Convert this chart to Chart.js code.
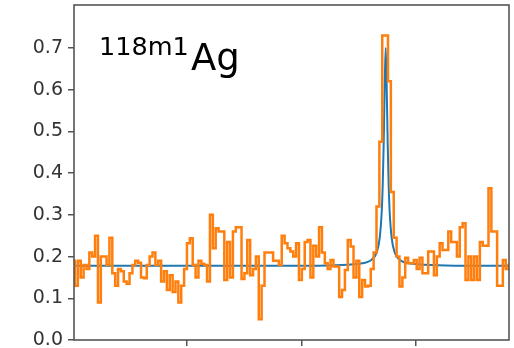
<!DOCTYPE html>
<html>
<head>
<meta charset="utf-8">
<script src="https://cdn.jsdelivr.net/npm/chart.js@4"></script>
<style>
  html, body { margin: 0; padding: 0; background: #fff; }
  #wrap { width: 514px; height: 348px; }
</style>
</head>
<body>
<div id="wrap"><canvas id="c" width="514" height="348"></canvas></div>
<script>
// Spectrum binning (0.5 per bin) and visible axis range
const binStart = 40.1;
const binWidth = 0.5;
const xMin = 40.43;
const xMax = 116.17;
const xTickValues = [60, 80, 100];
const yTickValues = [0.0, 0.1, 0.2, 0.3, 0.4, 0.5, 0.6, 0.7];

// Measured counts per bin (orange histogram)
const counts = [
  0.19,
  0.13, 0.19, 0.15, 0.18, 0.17, 0.21, 0.20, 0.25, 0.09, 0.20,
  0.20, 0.18, 0.245, 0.16, 0.13, 0.17, 0.165, 0.14, 0.135, 0.16,
  0.18, 0.19, 0.185, 0.15, 0.148, 0.18, 0.20, 0.21, 0.18, 0.19,
  0.14, 0.165, 0.12, 0.155, 0.115, 0.14, 0.09, 0.13, 0.17, 0.232,
  0.244, 0.18, 0.15, 0.19, 0.183, 0.18, 0.14, 0.30, 0.22, 0.268,
  0.26, 0.26, 0.144, 0.235, 0.15, 0.26, 0.27, 0.27, 0.146, 0.16,
  0.24, 0.155, 0.17, 0.20, 0.05, 0.13, 0.21, 0.21, 0.21, 0.19,
  0.19, 0.18, 0.25, 0.232, 0.22, 0.212, 0.20, 0.232, 0.144, 0.17,
  0.235, 0.24, 0.15, 0.226, 0.20, 0.27, 0.21, 0.184, 0.17, 0.192,
  0.176, 0.176, 0.103, 0.12, 0.168, 0.24, 0.224, 0.15, 0.19, 0.103,
  0.144, 0.128, 0.13, 0.17, 0.21, 0.32, 0.475, 0.73, 0.73, 0.62,
  0.355, 0.245, 0.20, 0.128, 0.15, 0.197, 0.184, 0.184, 0.192, 0.17,
  0.197, 0.16, 0.16, 0.212, 0.212, 0.155, 0.20, 0.232, 0.216, 0.216,
  0.26, 0.235, 0.235, 0.20, 0.27, 0.28, 0.144, 0.20, 0.144, 0.20,
  0.144, 0.235, 0.226, 0.226, 0.364, 0.26, 0.26, 0.13, 0.13, 0.192,
  0.17, 0.18
];

// Fitted peak + flat background (blue curve)
const fitX = [40.43, 60.0, 80.0, 90.0, 92.3, 93.13, 93.66, 94.0, 94.18, 94.35, 94.53,
              94.7, 94.87, 95.05, 95.22, 95.4, 95.74, 96.27, 97.1, 99.4, 110.0, 116.17];
const fitY = [0.178, 0.178, 0.178, 0.183, 0.193, 0.21, 0.245, 0.305, 0.37, 0.47, 0.61,
              0.70, 0.61, 0.47, 0.37, 0.305, 0.245, 0.21, 0.193, 0.183, 0.178, 0.178];

const histPoints = counts.map((v, i) => ({ x: binStart + binWidth * (i + 0.5), y: v }));
const fitPoints = fitX.map((x, i) => ({ x: x, y: fitY[i] }));

const frame = {
  id: 'frame',
  afterDatasetsDraw(chart) {
    const a = chart.chartArea, ctx = chart.ctx;
    ctx.save();
    ctx.strokeStyle = '#555';
    ctx.lineWidth = 1.6;
    ctx.strokeRect(a.left, a.top, a.right - a.left, a.bottom - a.top);
    ctx.restore();
  },
  afterDraw(chart) {
    const ctx = chart.ctx;
    ctx.save();
    ctx.fillStyle = '#000';
    ctx.textBaseline = 'alphabetic';
    ctx.font = '25.5px "DejaVu Sans"';
    ctx.fillText('118m1', 99, 55);
    ctx.font = '37px "DejaVu Sans"';
    ctx.fillText('Ag', 191, 70);
    ctx.restore();
  }
};

new Chart(document.getElementById('c'), {
  type: 'line',
  data: {
    datasets: [
      {
        label: 'data',
        data: histPoints,
        stepped: 'middle',
        borderColor: '#ff7f0e',
        borderWidth: 2.5,
        pointRadius: 0,
        fill: false,
        order: 0
      },
      {
        label: 'fit',
        data: fitPoints,
        borderColor: '#1f77b4',
        borderWidth: 2,
        pointRadius: 0,
        cubicInterpolationMode: 'monotone',
        fill: false,
        order: 1
      }
    ]
  },
  options: {
    responsive: false,
    animation: false,
    layout: { padding: { top: 5, right: 5, left: 0, bottom: 0 } },
    plugins: { legend: { display: false }, tooltip: { enabled: false } },
    scales: {
      x: {
        type: 'linear',
        min: xMin,
        max: xMax,
        afterBuildTicks: s => { s.ticks = xTickValues.map(v => ({ value: v })); },
        afterFit: s => { s.height = 8; s.paddingLeft = 0; s.paddingRight = 0; },
        ticks: { display: false },
        border: { display: false },
        grid: { drawOnChartArea: false, drawTicks: true, tickLength: 6, color: '#555', lineWidth: 1.5 }
      },
      y: {
        min: 0,
        max: 0.803,
        afterBuildTicks: s => { s.ticks = yTickValues.map(v => ({ value: v })); },
        afterFit: s => { s.width = 74; s.paddingTop = 0; s.paddingBottom = 0; },
        ticks: {
          callback: v => Number(v).toFixed(1),
          color: '#333',
          font: { family: 'DejaVu Sans', size: 19 },
          padding: 5
        },
        border: { display: false },
        grid: { drawOnChartArea: false, drawTicks: true, tickLength: 6, color: '#555', lineWidth: 1.5 }
      }
    }
  },
  plugins: [frame]
});
</script>
</body>
</html>
